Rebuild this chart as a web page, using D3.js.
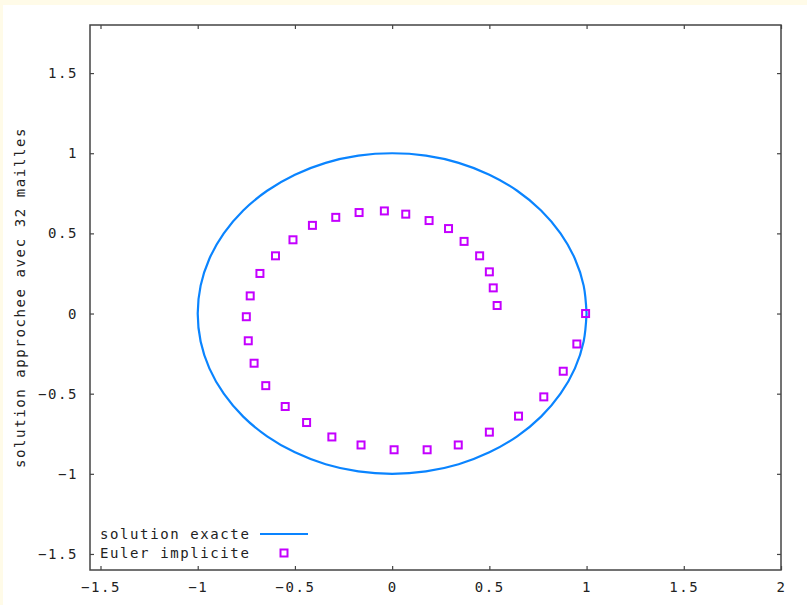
<!DOCTYPE html>
<html>
<head>
<meta charset="utf-8">
<script src="https://cdn.jsdelivr.net/npm/d3@7"></script>
<style>
  html, body { margin: 0; padding: 0; background: #fffbe8; }
  svg { display: block; }
  text { font-family: "DejaVu Sans Mono", monospace; font-size: 14px; letter-spacing: 1.6px; fill: #222; }
</style>
</head>
<body>
<svg id="chart"></svg>
<script>
// exact solution, sampled round the unit circle (clockwise from (1,0))
const exactX = [1, 0.985, 0.94, 0.866, 0.766, 0.643, 0.5, 0.342, 0.174, 0,
  -0.174, -0.342, -0.5, -0.643, -0.766, -0.866, -0.94, -0.985, -1,
  -0.985, -0.94, -0.866, -0.766, -0.643, -0.5, -0.342, -0.174, 0,
  0.174, 0.342, 0.5, 0.643, 0.766, 0.866, 0.94, 0.985, 1];
const exactY = [0, -0.174, -0.342, -0.5, -0.643, -0.766, -0.866, -0.94, -0.985, -1,
  -0.985, -0.94, -0.866, -0.766, -0.643, -0.5, -0.342, -0.174, 0,
  0.174, 0.342, 0.5, 0.643, 0.766, 0.866, 0.94, 0.985, 1,
  0.985, 0.94, 0.866, 0.766, 0.643, 0.5, 0.342, 0.174, 0];

// implicit Euler, 32 steps
const eulerX = [0.995, 0.95, 0.88, 0.78, 0.65, 0.50, 0.34, 0.18, 0.01, -0.16,
  -0.31, -0.44, -0.55, -0.65, -0.71, -0.74, -0.75, -0.73, -0.68, -0.60,
  -0.51, -0.41, -0.29, -0.17, -0.04, 0.07, 0.19, 0.29, 0.37, 0.45,
  0.50, 0.52, 0.54];
const eulerY = [0, -0.19, -0.36, -0.52, -0.64, -0.74, -0.82, -0.85, -0.85, -0.82,
  -0.77, -0.68, -0.58, -0.45, -0.31, -0.17, -0.02, 0.11, 0.25, 0.36,
  0.46, 0.55, 0.60, 0.63, 0.64, 0.62, 0.58, 0.53, 0.45, 0.36,
  0.26, 0.16, 0.05];

const xTicks = [-1.5, -1, -0.5, 0, 0.5, 1, 1.5, 2];
const yTicks = [-1.5, -1, -0.5, 0, 0.5, 1, 1.5];
const seriesNames = ["solution exacte", "Euler implicite"];

const width = 807, height = 605;
const margin = { top: 25, right: 26, bottom: 35, left: 90 };
const lineColor = "#0a84ff", pointColor = "#c400ff", frameColor = "#444";

const svg = d3.select("#chart").attr("width", width).attr("height", height);

// white page inside the cream border (top and left only)
svg.append("rect").attr("x", 3).attr("y", 5)
  .attr("width", width - 3).attr("height", height - 5).attr("fill", "#fff");

const x = d3.scaleLinear().domain([-1.554, 2]).range([margin.left, width - margin.right]);
const y = d3.scaleLinear().domain([-1.6, 1.8]).range([height - margin.bottom, margin.top]);

const fmt = (d) => String(d).replace("-", "\u2212");

// axes with inward ticks, mirrored on the opposite side
svg.append("g")
  .attr("transform", `translate(0,${y.range()[0]})`)
  .call(d3.axisBottom(x).tickValues(xTicks).tickFormat(fmt).tickSizeInner(-4).tickSizeOuter(0).tickPadding(12))
  .call((g) => g.select(".domain").remove());
svg.append("g")
  .attr("transform", `translate(0,${y.range()[1]})`)
  .call(d3.axisTop(x).tickValues(xTicks).tickFormat("").tickSizeInner(-4).tickSizeOuter(0))
  .call((g) => g.select(".domain").remove());
svg.append("g")
  .attr("transform", `translate(${x.range()[0]},0)`)
  .call(d3.axisLeft(y).tickValues(yTicks).tickFormat(fmt).tickSizeInner(-4).tickSizeOuter(0).tickPadding(12))
  .call((g) => g.select(".domain").remove());
svg.append("g")
  .attr("transform", `translate(${x.range()[1]},0)`)
  .call(d3.axisRight(y).tickValues(yTicks).tickFormat("").tickSizeInner(-4).tickSizeOuter(0))
  .call((g) => g.select(".domain").remove());

svg.selectAll(".tick line").attr("stroke", frameColor).attr("stroke-width", 1.2);
svg.selectAll(".tick text").attr("fill", "#222").style("font-size", "14px")
  .style("font-family", "'DejaVu Sans Mono', monospace");

// frame
svg.append("rect")
  .attr("x", x.range()[0]).attr("y", y.range()[1])
  .attr("width", x.range()[1] - x.range()[0]).attr("height", y.range()[0] - y.range()[1])
  .attr("fill", "none").attr("stroke", frameColor).attr("stroke-width", 1.5);

// y label
svg.append("text")
  .attr("transform", `translate(25,${(y.range()[0] + y.range()[1]) / 2}) rotate(-90)`)
  .attr("text-anchor", "middle")
  .text("solution approchee avec 32 mailles");

// exact solution
const exact = exactX.map((d, i) => [d, exactY[i]]);
svg.append("path")
  .datum(exact)
  .attr("fill", "none").attr("stroke", lineColor).attr("stroke-width", 2.2)
  .attr("d", d3.line().x((d) => x(d[0])).y((d) => y(d[1])).curve(d3.curveCatmullRom));

// implicit Euler points
const euler = eulerX.map((d, i) => [d, eulerY[i]]);
svg.append("g").selectAll("rect")
  .data(euler)
  .join("rect")
  .attr("x", (d) => x(d[0]) - 3.5).attr("y", (d) => y(d[1]) - 3.5)
  .attr("width", 7).attr("height", 7)
  .attr("fill", "none").attr("stroke", pointColor).attr("stroke-width", 2);

// legend
const lg = svg.append("g").attr("transform", "translate(100,534)");
lg.selectAll("text")
  .data(seriesNames)
  .join("text")
  .attr("x", 0).attr("y", (d, i) => i * 19 + 5)
  .text((d) => d);
lg.append("line").attr("x1", 160).attr("x2", 208).attr("y1", 0).attr("y2", 0)
  .attr("stroke", lineColor).attr("stroke-width", 2.2);
lg.append("rect").attr("x", 180.5).attr("y", 15.5).attr("width", 7).attr("height", 7)
  .attr("fill", "none").attr("stroke", pointColor).attr("stroke-width", 2);
</script>
</body>
</html>
